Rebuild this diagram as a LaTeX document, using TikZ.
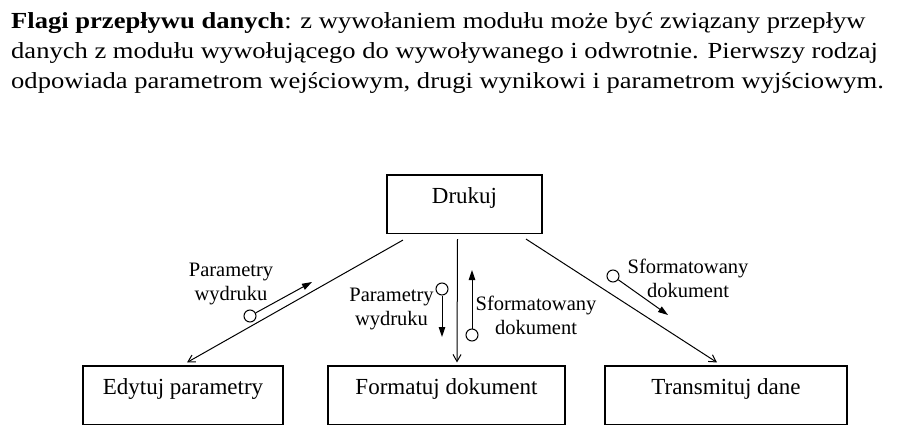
\documentclass[tikz,border=0pt]{standalone}
\usepackage{fontspec}
\setmainfont{Liberation Serif}
\newfontfamily\hdrfont{Liberation Serif}[FakeStretch=1.155]
\usetikzlibrary{arrows.meta}

\begin{document}
\begin{tikzpicture}[x=1pt,y=-1pt,
  modbox/.style={draw, line width=1.1pt, minimum width=#1, inner xsep=0pt, inner ysep=0pt,
    text height=28pt, text depth=30.5pt, font=\fontsize{23}{28}\selectfont},
  conn/.style={draw, line width=1pt, -{Straight Barb[length=7pt,width=8pt,line width=1pt]}},
  flagc/.style={draw, circle, line width=1pt, minimum size=12pt, inner sep=0pt},
  flagarr/.style={draw, line width=1pt, -{Triangle[length=10pt,width=6.5pt]}},
  lbl/.style={align=center, inner sep=0pt, font=\fontsize{20.5}{24}\selectfont},
  hdr/.style={align=left, inner sep=0pt, font=\hdrfont\fontsize{23}{30}\selectfont}
]
\useasboundingbox (0,0) rectangle (914,439);

% header
\node[hdr, anchor=base west] (hdr) at (11,88)
  {\textbf{Flagi przepływu danych}: z wywołaniem modułu może być związany przepływ\\
   danych z modułu wywołującego do wywoływanego i odwrotnie. Pierwszy rodzaj\\
   odpowiada parametrom wejściowym, drugi wynikowi i parametrom wyjściowym.};

% modules
\node[modbox=155pt] (drukuj) at (464.5,204.25) {Drukuj};
\node[modbox=200pt] (edytuj) at (183,395.25) {Edytuj parametry};
\node[modbox=237pt] (formatuj) at (446.5,395.25) {Formatuj dokument};
\node[modbox=242pt] (transmituj) at (726,395.25) {Transmituj dane};

% calls
\draw[conn] ([shift={(-61.5,6)}]drukuj.south) -- ([shift={(4,-3)}]edytuj.north);
\draw[conn] ([shift={(-7,5)}]drukuj.south) -- ([shift={(10.5,-3)}]formatuj.north);
\draw[conn] ([shift={(61.5,5)}]drukuj.south) -- ([shift={(-9,-3)}]transmituj.north);

% flags
\node[flagc] (f1) at (250,316) {};
\coordinate (f1e) at (312,282);
\draw[flagarr] (f1) -- (f1e);
\node[lbl, anchor=base] (l1) at (231,300) {Parametry\\wydruku};

\node[flagc] (f2) at (442,289) {};
\coordinate (f2e) at (442,337);
\draw[flagarr] (f2) -- (f2e);
\node[lbl, anchor=base] (l2) at (391.5,325) {Parametry\\wydruku};

\node[flagc] (f3) at (472,335) {};
\coordinate (f3e) at (472,270);
\draw[flagarr] (f3) -- (f3e);
\node[lbl, anchor=base] (l3) at (536,334) {Sformatowany\\dokument};

\node[flagc] (f4) at (613,276) {};
\coordinate (f4e) at (668,315);
\draw[flagarr] (f4) -- (f4e);
\node[lbl, anchor=base] (l4) at (688,297) {Sformatowany\\dokument};
\end{tikzpicture}
\end{document}
